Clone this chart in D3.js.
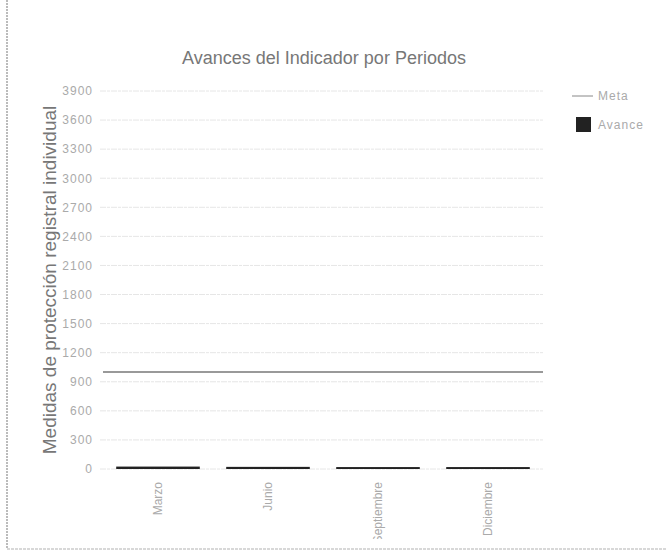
<!DOCTYPE html>
<html>
<head>
<meta charset="utf-8">
<script src="https://cdn.jsdelivr.net/npm/d3@7"></script>
<style>
  body { margin: 0; background: #fff; }
  text { font-family: "Liberation Sans", Arial, sans-serif; }
</style>
</head>
<body>
<div id="chart"></div>
<script>
// data
let periodos = ["Marzo", "Junio", "Septiembre", "Diciembre"];
let avance = [25, 22, 20, 20];
let meta = [1000, 1000, 1000, 1000];
let yTicks = d3.range(0, 3901, 300);

let svgWidth = 666;
let svgHeight = 556;

let margin = { top: 91, right: 123, bottom: 87, left: 103 };
let width = svgWidth - margin.left - margin.right;
let height = svgHeight - margin.top - margin.bottom;

let svg = d3.select("#chart")
  .append("svg")
  .attr("width", svgWidth)
  .attr("height", svgHeight);

// page edges of the scan
svg.append("line")
  .attr("x1", 7).attr("x2", 7).attr("y1", 0).attr("y2", 549)
  .attr("stroke", "#bbb").attr("stroke-width", 2)
  .attr("stroke-dasharray", "2,1");
svg.append("line")
  .attr("x1", 7).attr("x2", 666).attr("y1", 549).attr("y2", 549)
  .attr("stroke", "#ccc").attr("stroke-width", 1.5)
  .attr("stroke-dasharray", "3,1");

// title
svg.append("text")
  .attr("x", 324)
  .attr("y", 64)
  .attr("text-anchor", "middle")
  .attr("font-size", 18)
  .attr("fill", "#777")
  .text("Avances del Indicador por Periodos");

let chartGroup = svg.append("g")
  .attr("transform", `translate(${margin.left}, ${margin.top})`);

let x = d3.scaleBand()
  .domain(periodos)
  .range([0, width])
  .paddingInner(0.24)
  .paddingOuter(0.12);

let y = d3.scaleLinear()
  .domain([0, 3900])
  .range([height, 0]);

// gridlines
chartGroup.append("g")
  .selectAll("line")
  .data(yTicks)
  .enter()
  .append("line")
  .attr("x1", -3)
  .attr("x2", width)
  .attr("y1", d => y(d))
  .attr("y2", d => y(d))
  .attr("stroke", "#e6e6e6")
  .attr("stroke-width", 1)
  .attr("stroke-dasharray", "6,1,3,1");

// y axis labels
let leftAxis = d3.axisLeft(y)
  .tickValues(yTicks)
  .tickFormat(d3.format("d"))
  .tickSize(0)
  .tickPadding(10);
let yAxis = chartGroup.append("g").call(leftAxis);
yAxis.select(".domain").remove();
yAxis.selectAll("text")
  .attr("font-size", 12)
  .attr("letter-spacing", 1)
  .attr("fill", "#aaa")
  .style("font-family", "'Liberation Sans', Arial, sans-serif");

// y axis title
svg.append("text")
  .attr("transform", "translate(56, 280) rotate(-90)")
  .attr("text-anchor", "middle")
  .attr("font-size", 19)
  .attr("fill", "#777")
  .text("Medidas de protección registral individual");

// avance bars
chartGroup.selectAll("rect.bar")
  .data(periodos)
  .enter()
  .append("rect")
  .attr("class", "bar")
  .attr("x", d => x(d))
  .attr("y", (d, i) => y(avance[i]))
  .attr("width", x.bandwidth())
  .attr("height", (d, i) => height - y(avance[i]))
  .attr("fill", "#222");

// meta line
let metaLine = d3.line()
  .x((d, i) => i === 0 ? 0 : (i === meta.length - 1 ? width : x(periodos[i]) + x.bandwidth() / 2))
  .y(d => y(d));
chartGroup.append("path")
  .datum(meta)
  .attr("d", metaLine)
  .attr("fill", "none")
  .attr("stroke", "#777")
  .attr("stroke-width", 1.5);

// x labels, cut off at the bottom like the scan
svg.append("clipPath")
  .attr("id", "cut")
  .append("rect")
  .attr("x", 0).attr("y", 0).attr("width", svgWidth).attr("height", 539 - margin.top);

let bottomAxis = d3.axisBottom(x).tickSize(0).tickPadding(0);
let xAxis = chartGroup.append("g")
  .attr("clip-path", "url(#cut)")
  .append("g")
  .attr("transform", `translate(0, ${height})`)
  .call(bottomAxis);
xAxis.select(".domain").remove();
xAxis.selectAll("text")
  .attr("transform", "rotate(-90)")
  .attr("x", -13)
  .attr("y", 0)
  .attr("dy", "0.35em")
  .attr("text-anchor", "end")
  .attr("font-size", 12)
  .attr("fill", "#aaa")
  .style("font-family", "'Liberation Sans', Arial, sans-serif");

// legend
let legend = svg.append("g").attr("transform", "translate(572, 96)");
legend.append("line")
  .attr("x1", 0).attr("x2", 21).attr("y1", 0).attr("y2", 0)
  .attr("stroke", "#888").attr("stroke-width", 1);
legend.append("text")
  .attr("x", 26).attr("y", 4)
  .attr("font-size", 12).attr("letter-spacing", 1).attr("fill", "#aaa")
  .text("Meta");
legend.append("rect")
  .attr("x", 4).attr("y", 21).attr("width", 15).attr("height", 15)
  .attr("fill", "#222");
legend.append("text")
  .attr("x", 26).attr("y", 33)
  .attr("font-size", 12).attr("letter-spacing", 1).attr("fill", "#aaa")
  .text("Avance");
</script>
</body>
</html>
